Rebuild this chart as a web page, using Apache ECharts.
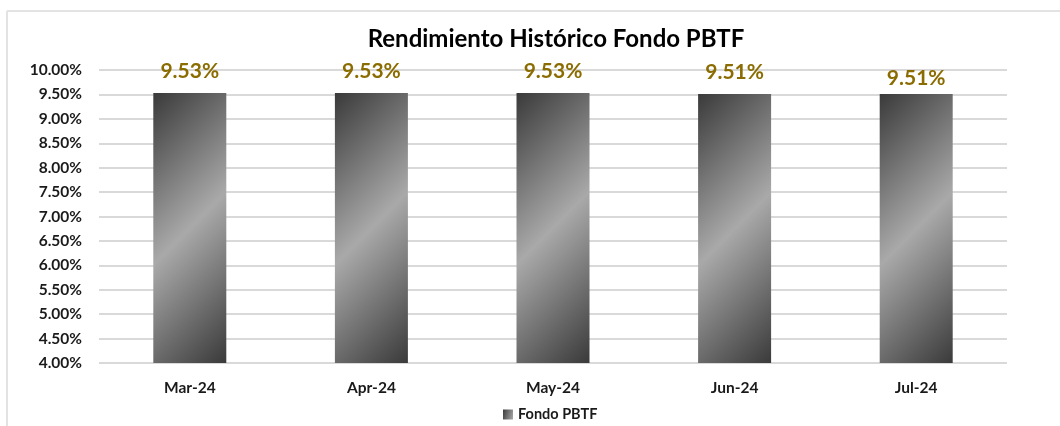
<!DOCTYPE html>
<html lang="es">
<head>
<meta charset="utf-8">
<title>Rendimiento Histórico Fondo PBTF</title>
<script src="https://cdn.jsdelivr.net/npm/echarts@6/dist/echarts.min.js"></script>
<style>
  html, body { margin: 0; padding: 0; background: #fff; }
  #chart { width: 1060px; height: 426px; }
</style>
</head>
<body>
<div id="chart"></div>
<script>
// datos
var categorias = ['Mar-24', 'Apr-24', 'May-24', 'Jun-24', 'Jul-24'];
var rendimiento = [9.53, 9.53, 9.53, 9.51, 9.51];
var serieNombre = 'Fondo PBTF';
var titulo = 'Rendimiento Histórico Fondo PBTF';

var FONT = 'Lato, "Liberation Sans", sans-serif';

// degradado diagonal oscuro-claro-oscuro (aprox. 45° en píxeles para una barra de 73x270)
var degradado = new echarts.graphic.LinearGradient(0, 0, 2.35, 0.635, [
  { offset: 0, color: '#3a3a3a' },
  { offset: 0.5, color: '#a9a9a9' },
  { offset: 1, color: '#3a3a3a' }
]);

var datos = rendimiento.map(function (v, i) {
  var item = { value: v };
  // la última etiqueta está un poco más abajo en el original
  if (i === rendimiento.length - 1) item.label = { offset: [0, 6] };
  return item;
});

var chart = echarts.init(document.getElementById('chart'));
chart.setOption({
  backgroundColor: '#fff',
  animation: false,
  title: {
    text: titulo,
    left: 551,
    top: 22,
    textAlign: 'center',
    textStyle: { fontFamily: FONT, fontSize: 24, fontWeight: 'bold', color: '#000' }
  },
  graphic: [
    { type: 'line', shape: { x1: 7, y1: 11, x2: 1060, y2: 11 }, style: { stroke: '#e3e3e3', lineWidth: 2 } },
    { type: 'line', shape: { x1: 7, y1: 11, x2: 7, y2: 426 }, style: { stroke: '#e3e3e3', lineWidth: 2 } }
  ],
  legend: {
    data: [serieNombre],
    top: 402,
    left: 498,
    icon: 'rect',
    itemWidth: 10,
    itemHeight: 10,
    itemGap: 4,
    textStyle: { fontFamily: FONT, fontSize: 14.5, fontWeight: 'bold', color: '#1a1a1a' }
  },
  grid: { left: 99, right: 53, top: 70, bottom: 63 },
  xAxis: {
    type: 'category',
    data: categorias,
    axisLine: { show: false },
    axisTick: { show: false },
    axisLabel: { margin: 17, fontFamily: FONT, fontSize: 15.5, fontWeight: 'bold', color: '#1a1a1a' }
  },
  yAxis: {
    type: 'value',
    min: 4,
    max: 10,
    interval: 0.5,
    axisLine: { show: false },
    axisTick: { show: false },
    splitLine: { lineStyle: { color: '#d9d9d9', width: 2 } },
    axisLabel: {
      margin: 17,
      fontFamily: FONT, fontSize: 15.5, fontWeight: 'bold', color: '#1a1a1a',
      formatter: function (v) { return v.toFixed(2) + '%'; }
    }
  },
  series: [{
    name: serieNombre,
    type: 'bar',
    data: datos,
    barWidth: 73,
    itemStyle: { color: degradado },
    label: {
      show: true,
      position: 'top',
      distance: 11,
      fontFamily: FONT,
      fontSize: 21,
      fontWeight: 'bold',
      color: '#8b6c00',
      formatter: function (p) { return p.value.toFixed(2) + '%'; }
    }
  }]
});
</script>
</body>
</html>
